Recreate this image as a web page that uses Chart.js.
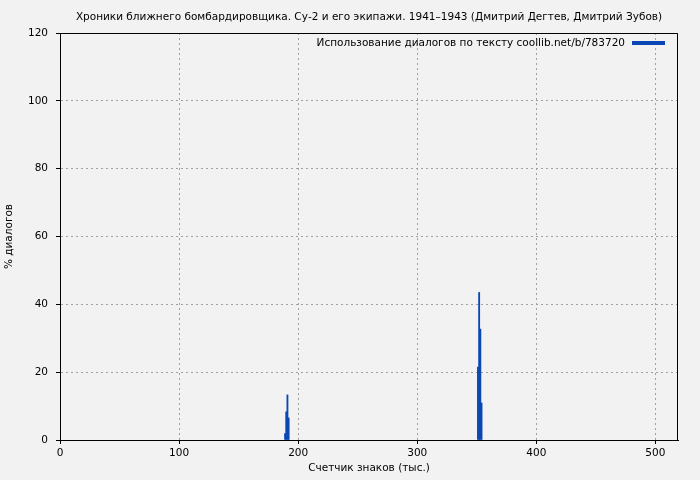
<!DOCTYPE html>
<html>
<head>
<meta charset="utf-8">
<script src="https://cdn.jsdelivr.net/npm/chart.js@4"></script>
<style>
  html, body { margin: 0; padding: 0; background: #f2f2f2; }
  #wrap { width: 700px; height: 480px; }
</style>
</head>
<body>
<div id="wrap"><canvas id="c" width="700" height="480"></canvas></div>
<script>
const chartTitle = "Хроники ближнего бомбардировщика. Су-2 и его экипажи. 1941–1943 (Дмитрий Дегтев, Дмитрий Зубов)";
const seriesLabel = "Использование диалогов по тексту coollib.net/b/783720";
const xTitle = "Счетчик знаков (тыс.)";
const yTitle = "% диалогов";
// positions along the text (thousand chars) and dialogue share (%)
const positions = [189, 190, 191, 192, 351, 352, 353, 354];
const dialogShare = [1.9, 8.3, 13.3, 6.5, 21.5, 43.5, 32.7, 10.9];
const xTicks = [0, 100, 200, 300, 400, 500];
const yTicks = [0, 20, 40, 60, 80, 100, 120];
const xMax = 519;

const FONT = "DejaVu Sans";
const FSIZE = 10.5;
const BLUE = "#0b47b4";

const points = positions.map((x, i) => ({ x: x, y: dialogShare[i] }));

const decor = {
  id: 'decor',
  beforeDraw(chart) {
    const ctx = chart.ctx;
    ctx.save();
    ctx.fillStyle = '#f2f2f2';
    ctx.fillRect(0, 0, chart.width, chart.height);
    ctx.restore();
  },
  afterDraw(chart) {
    const ctx = chart.ctx;
    const a = chart.chartArea;
    ctx.save();
    // frame
    ctx.strokeStyle = '#000';
    ctx.lineWidth = 1;
    ctx.setLineDash([]);
    ctx.beginPath();
    ctx.rect(a.left + 0.5, a.top + 0.5, a.right - a.left - 1, a.bottom - a.top);
    ctx.stroke();
    // title
    ctx.fillStyle = '#000';
    ctx.font = FSIZE + "px '" + FONT + "'";
    ctx.textAlign = 'center';
    ctx.textBaseline = 'middle';
    ctx.fillText(chartTitle, (a.left + a.right) / 2, 17);
    // x title
    ctx.fillText(xTitle, (a.left + a.right) / 2, 468);
    // y title
    ctx.save();
    ctx.translate(9, (a.top + a.bottom) / 2);
    ctx.rotate(-Math.PI / 2);
    ctx.fillText(yTitle, 0, 0);
    ctx.restore();
    // legend
    ctx.textAlign = 'right';
    ctx.fillText(seriesLabel, 625, 43);
    ctx.fillStyle = BLUE;
    ctx.fillRect(632, 41, 33, 4);
    ctx.restore();
  }
};

const gridOpts = {
  color: '#a0a0a0',
  tickColor: '#000',
  tickLength: 4,
  tickBorderDash: [],
  drawOnChartArea: true
};
const borderOpts = { display: true, color: '#000', width: 1, dash: [2, 3] };

new Chart(document.getElementById('c'), {
  type: 'bar',
  data: {
    datasets: [{
      label: seriesLabel,
      data: points,
      backgroundColor: BLUE,
      borderWidth: 0,
      barPercentage: 1.0,
      categoryPercentage: 1.0
    }]
  },
  options: {
    responsive: false,
    animation: false,
    devicePixelRatio: 1,
    layout: { padding: { top: 33, right: 22, left: 0, bottom: 0 } },
    plugins: {
      legend: { display: false },
      title: { display: false },
      tooltip: { enabled: false }
    },
    scales: {
      x: {
        type: 'linear',
        min: 0,
        max: xMax,
        offset: false,
        afterFit(s) { s.height = 40; },
        afterBuildTicks(s) { s.ticks = xTicks.map(v => ({ value: v })); },
        grid: Object.assign({ offset: false }, gridOpts),
        border: borderOpts,
        ticks: {
          color: '#000',
          font: { family: FONT, size: FSIZE },
          padding: 3,
          maxRotation: 0
        }
      },
      y: {
        type: 'linear',
        min: 0,
        max: 120,
        afterFit(s) { s.width = 60; },
        afterBuildTicks(s) { s.ticks = yTicks.map(v => ({ value: v })); },
        grid: gridOpts,
        border: borderOpts,
        ticks: {
          color: '#000',
          font: { family: FONT, size: FSIZE },
          padding: 8
        }
      }
    }
  },
  plugins: [decor]
});
</script>
</body>
</html>
